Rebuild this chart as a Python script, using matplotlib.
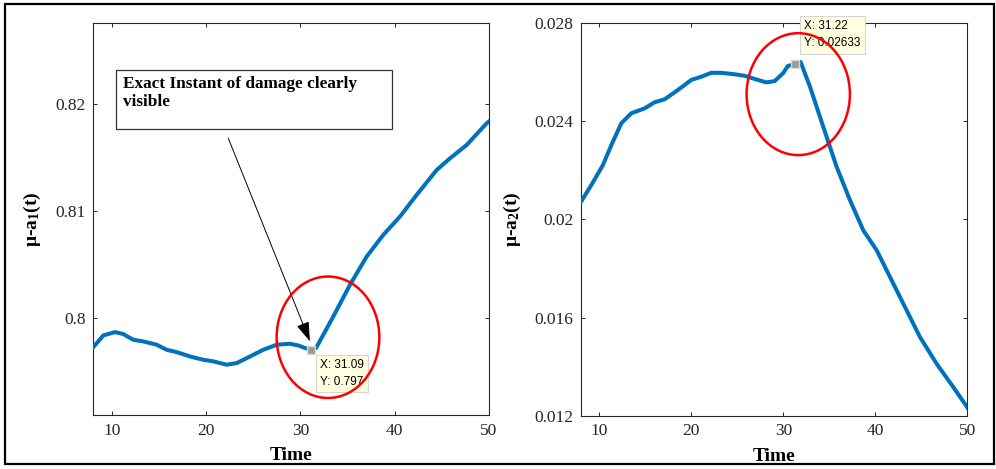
import numpy as np
import matplotlib.pyplot as plt
from matplotlib.patches import Ellipse, Rectangle

plt.rcParams['font.family'] = ['Liberation Serif', 'DejaVu Serif']
plt.rcParams['mathtext.fontset'] = 'custom'
plt.rcParams['mathtext.bf'] = 'Liberation Serif:bold'
plt.rcParams['mathtext.rm'] = 'Liberation Serif:bold'
plt.rcParams['mathtext.default'] = 'bf'

# mu - a1(t)
t1 = [8.0, 9.09, 10.33, 11.21, 12.27, 13.33, 14.75, 15.8, 16.87, 18.28, 19.7,
      20.76, 22.18, 23.24, 24.65, 26.06, 27.48, 28.89, 29.77, 30.48, 31.09,
      31.65, 33.48, 35.25, 37.02, 38.78, 40.55, 42.32, 44.44, 45.85, 47.62,
      49.74, 50.0]
a1 = [0.79722, 0.79835, 0.79866, 0.79848, 0.79794, 0.79779, 0.79748, 0.79701,
      0.79679, 0.79638, 0.79607, 0.79592, 0.79561, 0.79576, 0.79638, 0.79701,
      0.79748, 0.79757, 0.79741, 0.79717, 0.797,
      0.79716, 0.80012, 0.80308, 0.80573, 0.80776, 0.80947, 0.8115, 0.81383,
      0.81492, 0.81617, 0.8182, 0.81838]

# mu - a2(t)
t2 = [8.0, 9.12, 10.39, 11.3, 12.38, 13.47, 14.92, 16.01, 17.1, 18.54, 19.99,
      21.08, 22.16, 23.25, 24.71, 25.79, 26.88, 28.14, 29.05, 29.96, 30.5,
      31.22, 31.88, 32.9, 34.34, 35.79, 37.24, 38.69, 40.14, 41.59, 43.4,
      44.85, 46.66, 48.47, 50.0]
a2 = [0.02072, 0.0214, 0.02222, 0.02303, 0.02392, 0.02433, 0.02453, 0.02478,
      0.0249, 0.02528, 0.02569, 0.02582, 0.02598, 0.02598, 0.02592, 0.02586,
      0.02573, 0.02559, 0.02564, 0.02596, 0.02626,
      0.02633, 0.02642, 0.02541, 0.02378, 0.02215, 0.02079, 0.01956, 0.01875,
      0.01766, 0.0163, 0.01521, 0.01412, 0.01317, 0.01234]

tip1 = (31.09, 0.797)
tip2 = (31.22, 0.02633)

xticks = [10, 20, 30, 40, 50]
yticks1 = [0.8, 0.81, 0.82]
ylabels1 = ['0.8', '0.81', '0.82']
yticks2 = [0.012, 0.016, 0.02, 0.024, 0.028]
ylabels2 = ['0.012', '0.016', '0.02', '0.024', '0.028']

blue = '#0072BD'
dark = '#262626'

fig = plt.figure(figsize=(9.96, 4.69), dpi=100)
ax1 = fig.add_axes([0.0934, 0.1151, 0.3976, 0.836])
ax2 = fig.add_axes([0.5833, 0.1136, 0.3879, 0.8368])


def style(ax):
    ax.set_xlim(8, 50)
    ax.set_xticks(xticks)
    ax.tick_params(direction='in', length=3, width=0.7, colors=dark,
                   labelsize=12.5, top=True, right=True, pad=5.5)
    for s in ax.spines.values():
        s.set_color(dark)
        s.set_linewidth(0.8)


def datatip(ax, xy, text, pos):
    ax.plot(*xy, 's', ms=6, mfc='#9A9A9A', mec='#D8D8D8', mew=1.0,
            zorder=4, clip_on=False)
    ax.text(pos[0], pos[1], text, family=['Liberation Sans', 'DejaVu Sans'],
            fontsize=8.5, va='top', ha='left', linespacing=1.6, zorder=5,
            clip_on=False,
            bbox=dict(boxstyle='square,pad=0.35', fc='#FFFFE1', ec='#D6D6D6', lw=0.8))


# left panel
ax1.plot(t1, a1, color=blue, lw=2.9, zorder=3, solid_joinstyle='round')
style(ax1)
ax1.set_ylim(0.7909, 0.8276)
ax1.set_yticks(yticks1)
ax1.set_yticklabels(ylabels1)
ax1.set_xlabel('Time', fontsize=14, fontweight='bold')
ax1.set_ylabel('μ-a$_1$(t)', fontsize=14, fontweight='bold')
ax1.xaxis.set_label_coords(0.5, -0.082)
ax1.yaxis.set_label_coords(-0.126, 0.5)
datatip(ax1, tip1, 'X: 31.09\nY: 0.797', (32.05, 0.79615))
ax1.add_patch(Ellipse((32.92, 0.79818), 10.89, 0.01137, fill=False,
                      ec='red', lw=1.8, zorder=6))

# text box with arrow to the damage instant
ax1.add_patch(Rectangle((10.44, 0.81764), 29.26, 0.0056, fill=False,
                        ec='#333333', lw=0.9, zorder=5))
ax1.text(11.18, 0.82265, 'Exact Instant of damage clearly\nvisible',
         fontsize=12.4, fontweight='bold', va='top', ha='left',
         linespacing=1.15, zorder=5)
ax1.annotate('', xy=(31.0, 0.7978), xytext=(22.34, 0.81682),
             arrowprops=dict(arrowstyle='-|>,head_length=1.2,head_width=0.4',
                             color='black', lw=0.7, shrinkA=0, shrinkB=0),
             zorder=5)

# right panel
ax2.plot(t2, a2, color=blue, lw=2.9, zorder=3, solid_joinstyle='round')
style(ax2)
ax2.set_ylim(0.012, 0.028)
ax2.set_yticks(yticks2)
ax2.set_yticklabels(ylabels2)
ax2.set_xlabel('Time', fontsize=14, fontweight='bold')
ax2.set_ylabel('μ-a$_2$(t)', fontsize=14, fontweight='bold')
ax2.xaxis.set_label_coords(0.5, -0.082)
ax2.yaxis.set_label_coords(-0.149, 0.5)
datatip(ax2, tip2, 'X: 31.22\nY: 0.02633', (32.3, 0.02813))
ax2.add_patch(Ellipse((31.62, 0.02511), 11.23, 0.00497, fill=False,
                      ec='red', lw=1.8, zorder=6))

# frame around the whole figure
fig.patches.append(Rectangle((5 / 996, 5 / 469), 989 / 996, 460 / 469,
                             transform=fig.transFigure, fill=False,
                             ec='black', lw=1.6))

fig.savefig('out.png', dpi=100)
